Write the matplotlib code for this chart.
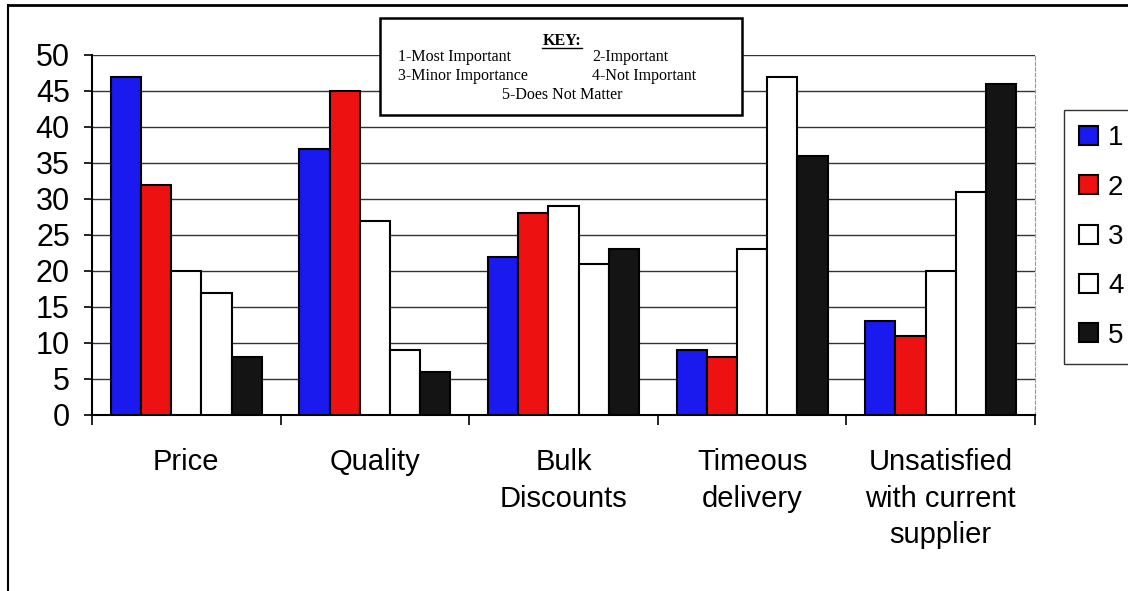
import numpy as np
import matplotlib
matplotlib.use("Agg")
import matplotlib.pyplot as plt
from matplotlib.patches import Patch, Rectangle
from matplotlib.lines import Line2D

# Survey responses per factor, rating 1 (most important) .. 5 (does not matter)
categories = ["Price", "Quality", "Bulk\nDiscounts", "Timeous\ndelivery",
              "Unsatisfied\nwith current\nsupplier"]
rating_1 = [47, 37, 22, 9, 13]
rating_2 = [32, 45, 28, 8, 11]
rating_3 = [20, 27, 29, 23, 20]
rating_4 = [17, 9, 21, 47, 31]
rating_5 = [8, 6, 23, 36, 46]
series_labels = ["1", "2", "3", "4", "5"]
colors = ["#1a1aee", "#ee1111", "white", "white", "#141414"]

plt.rcParams["font.family"] = ["Liberation Sans", "DejaVu Sans"]

W, H = 1128, 591
fig = plt.figure(figsize=(W / 100, H / 100), dpi=100)
ax = fig.add_axes([92 / W, 1 - 415 / H, (1035 - 92) / W, 360 / H])

series = [rating_1, rating_2, rating_3, rating_4, rating_5]
x = np.arange(len(categories))
width = 0.16
for i, vals in enumerate(series):
    ax.bar(x + (i - 2) * width, vals, width, color=colors[i],
           edgecolor="black", linewidth=1.5, zorder=3)

ax.set_xlim(-0.5, len(categories) - 0.5)
ax.set_ylim(0, 50)
ax.set_yticks(range(0, 51, 5))
ax.yaxis.grid(True, color="#333333", linewidth=1.0, zorder=0)
ax.tick_params(axis="y", labelsize=22, length=6, width=1.2, direction="out", pad=10)

ax.set_xticks(x)
ax.set_xticklabels(categories, fontsize=21, linespacing=1.39)
ax.tick_params(axis="x", length=0, pad=24)
ax.set_xticks(np.arange(-0.5, len(categories), 1.0), minor=True)
ax.tick_params(axis="x", which="minor", length=7, width=1.2, direction="out")

ax.spines["top"].set_visible(False)
ax.spines["right"].set_color("#999999")
ax.spines["right"].set_linestyle((0, (3, 2)))
ax.spines["left"].set_linewidth(1.5)
ax.spines["bottom"].set_linewidth(1.5)

handles = [Patch(facecolor=c, edgecolor="black", linewidth=1.5) for c in colors]
fig.legend(handles, series_labels, loc="upper left",
           bbox_to_anchor=(1064 / W, 1 - 110 / H), borderaxespad=0, fontsize=20,
           handlelength=0.68, handleheight=0.68, handletextpad=0.35,
           labelspacing=0.84, borderpad=0.55, fancybox=False,
           edgecolor="#333333", framealpha=1)

# Key box at the top
kx0, ky0, kx1, ky1 = 380 / W, 1 - 115 / H, 742 / W, 1 - 18 / H
fig.add_artist(Rectangle((kx0, ky0), kx1 - kx0, ky1 - ky0, transform=fig.transFigure,
                         facecolor="white", edgecolor="black", linewidth=1.8, zorder=5))
serif = dict(family="Liberation Serif", fontsize=11.5, zorder=6)
fig.text(562 / W, 1 - 41 / H, "KEY:", ha="center", va="center",
         fontweight="bold", **serif)
fig.add_artist(Line2D([542 / W, 582 / W], [1 - 48 / H] * 2,
                      transform=fig.transFigure, color="black", lw=1.0, zorder=6))
fig.text(398 / W, 1 - 57 / H, "1-Most Important", ha="left", va="center", **serif)
fig.text(592 / W, 1 - 57 / H, "2-Important", ha="left", va="center", **serif)
fig.text(398 / W, 1 - 76 / H, "3-Minor Importance", ha="left", va="center", **serif)
fig.text(592 / W, 1 - 76 / H, "4-Not Important", ha="left", va="center", **serif)
fig.text(562 / W, 1 - 95 / H, "5-Does Not Matter", ha="center", va="center", **serif)

# Outer page frame
fig.add_artist(Line2D([8 / W, 1], [1 - 5 / H] * 2, transform=fig.transFigure,
                      color="black", lw=2))
fig.add_artist(Line2D([8 / W] * 2, [0, 1 - 5 / H], transform=fig.transFigure,
                      color="black", lw=1.5))

fig.savefig("out.png", dpi=100)
